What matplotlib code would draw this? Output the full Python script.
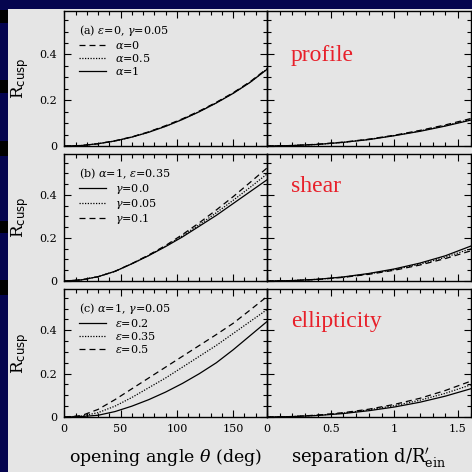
import matplotlib
matplotlib.use('Agg')
import matplotlib.pyplot as plt
from matplotlib.patches import Rectangle
from matplotlib.ticker import MultipleLocator, FuncFormatter

plt.rcParams['font.family'] = 'DejaVu Serif'
plt.rcParams['mathtext.fontset'] = 'dejavuserif'

# opening angle (deg) and image separation d/R'ein
theta = [0, 15, 30, 45, 60, 75, 90, 105, 120, 135, 150, 165, 180]
sep = [0, 0.2, 0.4, 0.6, 0.8, 1.0, 1.2, 1.4, 1.6]

# (a) profile: alpha = 0, 0.5, 1
a_theta_a0 = [0, 0.002, 0.010, 0.023, 0.040, 0.062, 0.089, 0.119, 0.153, 0.191, 0.233, 0.281, 0.338]
a_theta_a05 = [0, 0.002, 0.010, 0.022, 0.039, 0.061, 0.087, 0.117, 0.151, 0.189, 0.231, 0.279, 0.336]
a_theta_a1 = [0, 0.002, 0.010, 0.022, 0.039, 0.060, 0.086, 0.116, 0.150, 0.188, 0.230, 0.278, 0.335]
a_sep_a0 = [0, 0.002, 0.008, 0.017, 0.030, 0.047, 0.068, 0.092, 0.120]
a_sep_a05 = [0, 0.002, 0.007, 0.016, 0.029, 0.046, 0.066, 0.089, 0.116]
a_sep_a1 = [0, 0.002, 0.007, 0.016, 0.028, 0.045, 0.064, 0.087, 0.113]

# (b) shear: gamma = 0, 0.05, 0.1
b_theta_g0 = [0, 0.005, 0.020, 0.045, 0.080, 0.118, 0.160, 0.205, 0.255, 0.305, 0.360, 0.415, 0.470]
b_theta_g005 = [0, 0.005, 0.020, 0.045, 0.080, 0.119, 0.162, 0.210, 0.262, 0.317, 0.375, 0.435, 0.497]
b_theta_g01 = [0, 0.005, 0.020, 0.045, 0.081, 0.121, 0.165, 0.216, 0.271, 0.330, 0.392, 0.458, 0.525]
b_sep_g0 = [0, 0.002, 0.008, 0.019, 0.035, 0.056, 0.083, 0.117, 0.162]
b_sep_g005 = [0, 0.002, 0.008, 0.018, 0.033, 0.053, 0.078, 0.110, 0.150]
b_sep_g01 = [0, 0.002, 0.007, 0.017, 0.031, 0.050, 0.074, 0.104, 0.140]

# (c) ellipticity: epsilon = 0.2, 0.35, 0.5
c_theta_e02 = [0, 0.002, 0.008, 0.025, 0.050, 0.080, 0.115, 0.155, 0.200, 0.250, 0.310, 0.375, 0.440]
c_theta_e035 = [0, 0.004, 0.020, 0.050, 0.090, 0.135, 0.180, 0.230, 0.280, 0.330, 0.385, 0.440, 0.495]
c_theta_e05 = [0, 0.006, 0.035, 0.080, 0.130, 0.180, 0.230, 0.280, 0.330, 0.380, 0.432, 0.493, 0.555]
c_sep_e02 = [0, 0.002, 0.007, 0.016, 0.029, 0.046, 0.068, 0.096, 0.130]
c_sep_e035 = [0, 0.002, 0.008, 0.018, 0.033, 0.052, 0.077, 0.109, 0.148]
c_sep_e05 = [0, 0.002, 0.009, 0.020, 0.036, 0.058, 0.086, 0.122, 0.165]

W = H = 472
bg = '#e5e5e5'
navy = '#05054f'
dash = (0, (4.8, 3.2))
dot = (0, (1, 1.2))

fig = plt.figure(figsize=(W / 100, H / 100), dpi=100, facecolor=bg)

def box(x0, y0, x1, y1):
    return [x0 / W, 1 - y1 / H, (x1 - x0) / W, (y1 - y0) / H]

rows = [(11, 146), (154, 281), (289, 417)]
cols = [(64.3, 267), (267, 470.7)]
axes = [[fig.add_axes(box(c[0], r[0], c[1], r[1])) for c in cols] for r in rows]

for i, (axl, axr) in enumerate(axes):
    for ax in (axl, axr):
        ax.set_facecolor('none')
        ax.set_ylim(0, 0.59)
        ax.yaxis.set_major_locator(MultipleLocator(0.2))
        ax.yaxis.set_minor_locator(MultipleLocator(0.05))
        ax.tick_params(which='both', direction='in', top=True, right=True,
                       labelsize=8, pad=5, width=0.8)
        ax.tick_params(which='major', length=5)
        ax.tick_params(which='minor', length=3)
        ax.xaxis.set_major_formatter(FuncFormatter(lambda v, p: '%g' % v))
        ax.yaxis.set_major_formatter(FuncFormatter(lambda v, p: '%g' % v))
        for s in ax.spines.values():
            s.set_linewidth(1.0)
        if i < 2:
            ax.tick_params(labelbottom=False)
    axl.set_xlim(0, 180)
    axl.xaxis.set_major_locator(MultipleLocator(50))
    axl.xaxis.set_minor_locator(MultipleLocator(10))
    axr.set_xlim(0, 1.6)
    axr.xaxis.set_major_locator(MultipleLocator(0.5))
    axr.xaxis.set_minor_locator(MultipleLocator(0.1))
    axr.tick_params(labelleft=False)
    axl.set_ylabel(r'$\mathrm{R}_{\mathsf{cusp}}$', fontsize=12)
    axl.yaxis.set_label_coords(-0.165, 0.5)

kw = dict(color='k', lw=0.9)

# (a) profile
ax = axes[0][0]
ax.plot(theta, a_theta_a0, ls=dash, label=r'$\alpha$=0', **kw)
ax.plot(theta, a_theta_a05, ls=dot, label=r'$\alpha$=0.5', **kw)
ax.plot(theta, a_theta_a1, ls='-', label=r'$\alpha$=1', **kw)
ax = axes[0][1]
ax.plot(sep, a_sep_a0, ls=dash, **kw)
ax.plot(sep, a_sep_a05, ls=dot, **kw)
ax.plot(sep, a_sep_a1, ls='-', **kw)

# (b) shear
ax = axes[1][0]
ax.plot(theta, b_theta_g0, ls='-', label=r'$\gamma$=0.0', **kw)
ax.plot(theta, b_theta_g005, ls=dot, label=r'$\gamma$=0.05', **kw)
ax.plot(theta, b_theta_g01, ls=dash, label=r'$\gamma$=0.1', **kw)
ax = axes[1][1]
ax.plot(sep, b_sep_g0, ls='-', **kw)
ax.plot(sep, b_sep_g005, ls=dot, **kw)
ax.plot(sep, b_sep_g01, ls=dash, **kw)

# (c) ellipticity
ax = axes[2][0]
ax.plot(theta, c_theta_e02, ls='-', label=r'$\varepsilon$=0.2', **kw)
ax.plot(theta, c_theta_e035, ls=dot, label=r'$\varepsilon$=0.35', **kw)
ax.plot(theta, c_theta_e05, ls=dash, label=r'$\varepsilon$=0.5', **kw)
ax = axes[2][1]
ax.plot(sep, c_sep_e02, ls='-', **kw)
ax.plot(sep, c_sep_e035, ls=dot, **kw)
ax.plot(sep, c_sep_e05, ls=dash, **kw)

titles = [r'(a) $\varepsilon$=0, $\gamma$=0.05',
          r'(b) $\alpha$=1, $\varepsilon$=0.35',
          r'(c) $\alpha$=1, $\gamma$=0.05']
for row, t in zip(axes, titles):
    row[0].legend(title=t, alignment='left', frameon=False, loc='upper left',
                  bbox_to_anchor=(0.005, 1.01), borderaxespad=0.0, borderpad=1.2,
                  fontsize=8, title_fontsize=8, handlelength=2.5,
                  handletextpad=0.8, labelspacing=0.1)

names = ['profile', 'shear', 'ellipticity']
ys = [0.633, 0.703, 0.705]
for row, n, y in zip(axes, names, ys):
    row[1].text(0.118, y, n, transform=row[1].transAxes, color='#e8202a',
                fontsize=17, family='Liberation Serif', va='baseline')

axes[2][0].set_xlabel(r'opening angle $\theta$ (deg)', fontsize=12.5)
axes[2][0].xaxis.set_label_coords(0.5, -0.235)
axes[2][1].set_xlabel(r"separation d/$\mathrm{R}^{\prime}_{\mathrm{ein}}$", fontsize=13)
axes[2][1].xaxis.set_label_coords(0.5, -0.235)

# dark frame along the top and left edges
fig.add_artist(Rectangle((0, 1 - 9 / H), 1, 9 / H, transform=fig.transFigure,
                         color=navy, lw=0))
fig.add_artist(Rectangle((0, 0), 8 / W, 1, transform=fig.transFigure,
                         color=navy, lw=0))
for y0, y1 in [(10, 23), (80, 93), (141, 156), (221, 233), (280, 295)]:
    fig.add_artist(Rectangle((0, 1 - y1 / H), 8 / W, (y1 - y0) / H,
                             transform=fig.transFigure, color='black', lw=0))

fig.savefig('out.png', dpi=100, facecolor=bg)
